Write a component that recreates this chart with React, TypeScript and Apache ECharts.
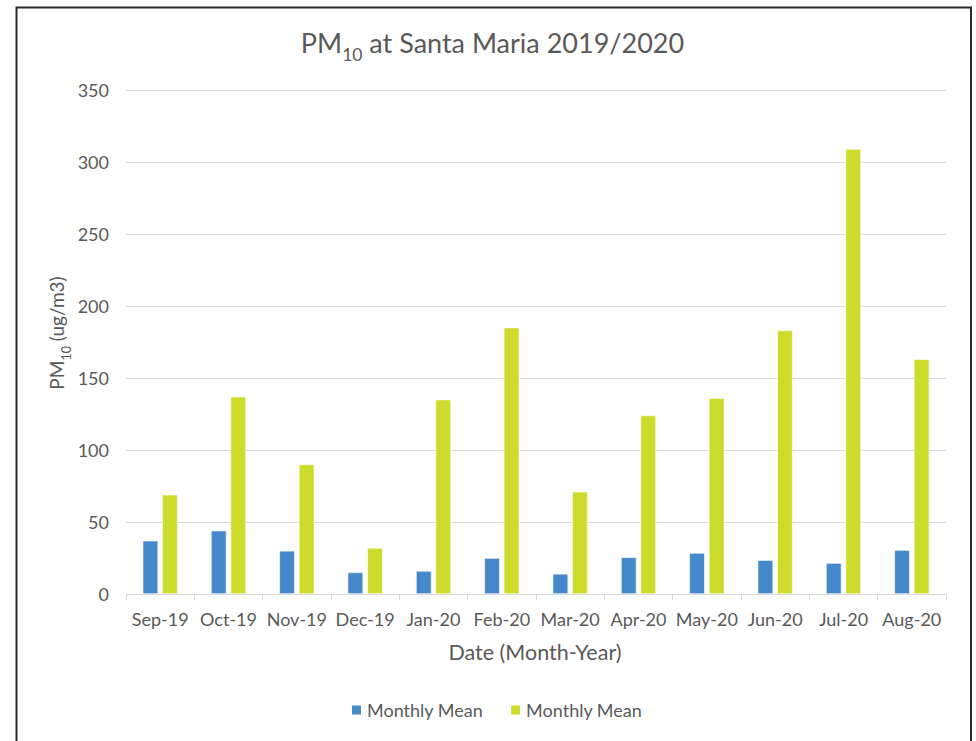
import React, { useEffect, useRef } from 'react';
import * as echarts from 'echarts';

const categories = ['Sep-19', 'Oct-19', 'Nov-19', 'Dec-19', 'Jan-20', 'Feb-20', 'Mar-20', 'Apr-20', 'May-20', 'Jun-20', 'Jul-20', 'Aug-20'];
const blueValues = [37, 44, 30, 15, 16, 25, 14, 25.5, 28.5, 23.5, 21.5, 30.5];
const greenValues = [69, 137, 90, 32, 135, 185, 71, 124, 136, 183, 309, 163];
const yMin = 0;
const yMax = 350;
const yInterval = 50;
const legendLabel = 'Monthly Mean';
const titleMain = 'PM';
const titleSub = '10';
const titleRest = ' at Santa Maria 2019/2020';
const yNameRest = ' (ug/m3)';
const xName = 'Date (Month-Year)';

const TEXT = '#595959';
const GRID = '#d9d9d9';
const BLUE = '#4589cb';
const GREEN = '#cddb2b';
const FONT = 'Lato';

export default function App() {
  const ref = useRef<HTMLDivElement>(null);
  useEffect(() => {
    if (!ref.current) return;
    const chart = echarts.init(ref.current, null, { renderer: 'svg' });
    chart.setOption({
      animation: false,
      backgroundColor: '#ffffff',
      textStyle: { fontFamily: FONT },
      grid: { left: 126, right: 30, top: 90, bottom: 147 },
      xAxis: {
        type: 'category',
        data: categories,
        axisLine: { show: true, lineStyle: { color: GRID, width: 1 } },
        axisTick: { show: true, alignWithLabel: false, length: 6, lineStyle: { color: GRID } },
        axisLabel: { color: TEXT, fontSize: 18, fontFamily: FONT, margin: 16, interval: 0 },
        splitLine: { show: false },
      },
      yAxis: {
        type: 'value',
        min: yMin,
        max: yMax,
        interval: yInterval,
        axisLine: { show: false },
        axisTick: { show: false },
        axisLabel: { color: TEXT, fontSize: 18, fontFamily: FONT, margin: 17 },
        splitLine: { show: true, lineStyle: { color: GRID, width: 1 } },
      },
      legend: {
        show: true,
        left: 350,
        top: 701,
        padding: 0,
        itemWidth: 11,
        itemHeight: 11,
        itemGap: 26,
        icon: 'rect',
        formatter: () => legendLabel,
        textStyle: { color: TEXT, fontSize: 18, fontFamily: FONT },
        data: ['Monthly Mean A', 'Monthly Mean B'],
      },
      series: [
        {
          name: 'Monthly Mean A',
          type: 'bar',
          data: blueValues,
          barWidth: 15.5,
          barGap: '26%',
          itemStyle: { color: BLUE, borderColor: '#ffffff', borderWidth: 0.6 },
        },
        {
          name: 'Monthly Mean B',
          type: 'bar',
          data: greenValues,
          barWidth: 15.5,
          barGap: '26%',
          itemStyle: { color: GREEN, borderColor: '#ffffff', borderWidth: 0.6 },
        },
      ],
      graphic: [
        {
          type: 'rect',
          silent: true,
          shape: { x: 16.5, y: 7.5, width: 954.5, height: 800 },
          style: { fill: 'none', stroke: '#2b2b2b', lineWidth: 2 },
        },
        {
          type: 'text',
          x: 492.5,
          y: 29,
          style: {
            text: `{m|${titleMain}}{s|${titleSub}}{m|${titleRest}}`,
            align: 'center',
            verticalAlign: 'top',
            rich: {
              m: { fontSize: 27, fontFamily: FONT, fill: TEXT, lineHeight: 32, verticalAlign: 'top' },
              s: { fontSize: 17.5, fontFamily: FONT, fill: TEXT, lineHeight: 17.5, padding: [16.5, 0, 0, 0], verticalAlign: 'top' },
            },
          },
        },
        {
          type: 'text',
          x: 47,
          y: 333,
          rotation: Math.PI / 2,
          style: {
            text: `{m|${titleMain}}{s|${titleSub}}{m|${yNameRest}}`,
            align: 'center',
            verticalAlign: 'top',
            rich: {
              m: { fontSize: 19, fontFamily: FONT, fill: TEXT, lineHeight: 23, verticalAlign: 'top' },
              s: { fontSize: 12.5, fontFamily: FONT, fill: TEXT, lineHeight: 12.5, padding: [12.5, 0, 0, 0], verticalAlign: 'top' },
            },
          },
        },
        {
          type: 'text',
          x: 535,
          y: 652,
          style: {
            text: xName,
            align: 'center',
            verticalAlign: 'middle',
            fontSize: 21.5,
            fontFamily: FONT,
            fill: TEXT,
          },
        },
      ],
    });
    return () => chart.dispose();
  }, []);
  return (
    <div
      ref={ref}
      style={{ position: 'fixed', left: 0, top: 0, width: 976, height: 741 }}
    />
  );
}
